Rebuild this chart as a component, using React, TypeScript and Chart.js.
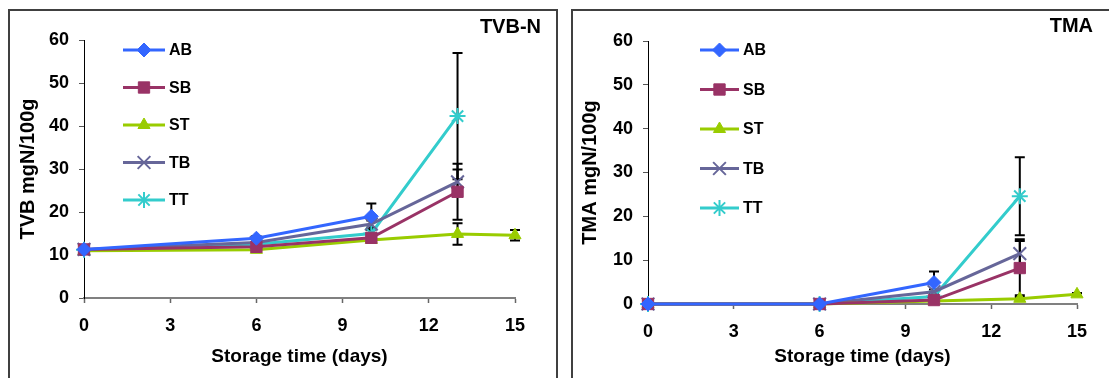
import React, { useEffect, useRef } from 'react';
import { Chart, registerables } from 'chart.js';
import { drawPoint } from 'chart.js/helpers';

Chart.register(...registerables);

const FONT = '"Liberation Sans", Arial, sans-serif';

const seriesNames = ['AB', 'SB', 'ST', 'TB', 'TT'];
const seriesColors = ['#3366FF', '#993366', '#99CC00', '#666699', '#33CCCC'];
const seriesPointStyles = ['rectRot', 'rect', 'triangle', 'crossRot', 'star'];
const seriesPointRadius = [7, 8, 7, 9, 8];

const xTickValues = [0, 3, 6, 9, 12, 15];
const yTickValues = [0, 10, 20, 30, 40, 50, 60];

// ---- TVB-N panel ----
const tvbDaysAB = [0, 6, 10];
const tvbAB = [11.3, 13.9, 19.0];
const tvbErrAB = [0.4, 0.5, 3.0];
const tvbDaysSB = [0, 6, 10, 13];
const tvbSB = [11.3, 11.9, 14.0, 24.7];
const tvbErrSB = [0.4, 0.4, 0.6, 6.5];
const tvbDaysST = [0, 6, 10, 13, 15];
const tvbST = [11.0, 11.2, 13.5, 14.9, 14.6];
const tvbErrST = [0.3, 0.4, 0.5, 2.5, 1.2];
const tvbDaysTB = [0, 6, 10, 13];
const tvbTB = [11.3, 12.9, 17.2, 27.0];
const tvbErrTB = [0.3, 0.4, 0.8, 2.9];
const tvbDaysTT = [0, 6, 10, 13];
const tvbTT = [11.2, 12.5, 15.0, 42.3];
const tvbErrTT = [0.3, 0.5, 0.8, 14.7];

// ---- TMA panel ----
const tmaDaysAB = [0, 6, 10];
const tmaAB = [0, 0, 4.9];
const tmaErrAB = [0, 0, 2.5];
const tmaDaysSB = [0, 6, 10, 13];
const tmaSB = [0, 0, 0.9, 8.2];
const tmaErrSB = [0, 0, 0.3, 6.2];
const tmaDaysST = [0, 6, 10, 13, 15];
const tmaST = [0, 0, 0.7, 1.2, 2.2];
const tmaErrST = [0, 0, 0.2, 0.4, 0.3];
const tmaDaysTB = [0, 6, 10, 13];
const tmaTB = [0, 0, 2.8, 11.5];
const tmaErrTB = [0, 0, 0.5, 3.3];
const tmaDaysTT = [0, 6, 10, 13];
const tmaTT = [0, 0, 1.7, 24.6];
const tmaErrTT = [0, 0, 0.4, 8.9];

const tvbSeries = [
  [tvbDaysAB, tvbAB, tvbErrAB],
  [tvbDaysSB, tvbSB, tvbErrSB],
  [tvbDaysST, tvbST, tvbErrST],
  [tvbDaysTB, tvbTB, tvbErrTB],
  [tvbDaysTT, tvbTT, tvbErrTT],
];
const tmaSeries = [
  [tmaDaysAB, tmaAB, tmaErrAB],
  [tmaDaysSB, tmaSB, tmaErrSB],
  [tmaDaysST, tmaST, tmaErrST],
  [tmaDaysTB, tmaTB, tmaErrTB],
  [tmaDaysTT, tmaTT, tmaErrTT],
];

const errorBarPlugin = {
  id: 'errorBars',
  beforeDatasetsDraw(chart: any) {
    const ctx = chart.ctx;
    const yScale = chart.scales.y;
    ctx.save();
    ctx.strokeStyle = '#000';
    ctx.lineWidth = 2;
    chart.data.datasets.forEach((ds: any, i: number) => {
      const meta = chart.getDatasetMeta(i);
      const errs = ds.errors || [];
      meta.data.forEach((pt: any, j: number) => {
        const e = errs[j];
        if (!e) return;
        const v = ds.data[j].y;
        const yt = yScale.getPixelForValue(v + e);
        const yb = yScale.getPixelForValue(v - e);
        const x = pt.x;
        ctx.beginPath();
        ctx.moveTo(x, yt);
        ctx.lineTo(x, yb);
        ctx.moveTo(x - 5, yt);
        ctx.lineTo(x + 5, yt);
        ctx.moveTo(x - 5, yb);
        ctx.lineTo(x + 5, yb);
        ctx.stroke();
      });
    });
    ctx.restore();
  },
};

const sideLegendPlugin = {
  id: 'sideLegend',
  afterDraw(chart: any, _args: any, opts: any) {
    const ctx = chart.ctx;
    ctx.save();
    chart.data.datasets.forEach((ds: any, i: number) => {
      const y = opts.y0 + i * opts.gap;
      ctx.strokeStyle = ds.borderColor;
      ctx.lineWidth = 3;
      ctx.beginPath();
      ctx.moveTo(opts.x0, y);
      ctx.lineTo(opts.x0 + opts.len, y);
      ctx.stroke();
      ctx.fillStyle = ds.pointBackgroundColor;
      ctx.strokeStyle = ds.pointBorderColor;
      ctx.lineWidth = ds.pointBorderWidth;
      drawPoint(
        ctx,
        { pointStyle: ds.pointStyle, radius: ds.pointRadius, rotation: 0, borderWidth: ds.pointBorderWidth } as any,
        opts.x0 + opts.len / 2,
        y
      );
      ctx.fillStyle = '#000';
      ctx.font = `bold 16px ${FONT}`;
      ctx.textBaseline = 'middle';
      ctx.textAlign = 'left';
      ctx.fillText(ds.label, opts.x0 + opts.len + 4, y + 1);
    });
    if (opts.title) {
      ctx.fillStyle = '#000';
      ctx.font = `bold 20px ${FONT}`;
      ctx.textAlign = 'right';
      ctx.textBaseline = 'middle';
      ctx.fillText(opts.title, opts.titleX, opts.titleY);
    }
    ctx.restore();
  },
};

type PanelCfg = {
  left: number;
  width: number;
  series: any[];
  yTitle: string;
  cornerTitle: string;
  titleX: number;
  titleY: number;
  padRight: number;
  padTop: number;
  yWidth: number;
  xHeight: number;
  yTitlePad: number;
  legend: { x0: number; len: number; y0: number; gap: number };
};

function buildConfig(cfg: PanelCfg): any {
  const datasets = cfg.series.map(([days, vals, errs]: any, i: number) => {
    const isStroke = seriesPointStyles[i] === 'crossRot' || seriesPointStyles[i] === 'star';
    return {
      label: seriesNames[i],
      data: days.map((d: number, j: number) => ({ x: d, y: vals[j] })),
      errors: errs,
      clip: false,
      borderColor: seriesColors[i],
      backgroundColor: seriesColors[i],
      borderWidth: 3,
      tension: 0,
      pointStyle: seriesPointStyles[i],
      pointRadius: seriesPointRadius[i],
      pointHoverRadius: seriesPointRadius[i],
      pointBackgroundColor: seriesColors[i],
      pointBorderColor: seriesColors[i],
      pointBorderWidth: isStroke ? 2 : 1,
    };
  });
  return {
    type: 'line',
    data: { datasets },
    plugins: [errorBarPlugin, sideLegendPlugin],
    options: {
      responsive: false,
      animation: false,
      events: [],
      layout: { padding: { left: 0, right: cfg.padRight, top: cfg.padTop, bottom: 0 } },
      plugins: {
        legend: { display: false },
        tooltip: { enabled: false },
        title: { display: false },
        sideLegend: { ...cfg.legend, title: cfg.cornerTitle, titleX: cfg.titleX, titleY: cfg.titleY },
      },
      scales: {
        x: {
          type: 'linear',
          min: 0,
          max: 15,
          afterBuildTicks: (scale: any) => {
            scale.ticks = xTickValues.map((v) => ({ value: v }));
          },
          afterFit: (scale: any) => {
            scale.height = cfg.xHeight;
          },
          grid: { display: true, drawOnChartArea: false, drawTicks: true, tickLength: 5, tickColor: '#666', tickWidth: 1.5 },
          border: { display: true, color: '#808080', width: 2 },
          ticks: { color: '#000', padding: 12, font: { family: FONT, size: 18, weight: 'bold' }, maxRotation: 0, autoSkip: false },
          title: {
            display: true,
            text: 'Storage time (days)',
            color: '#000',
            font: { family: FONT, size: 19, weight: 'bold' },
            padding: { top: 0, bottom: 10 },
          },
        },
        y: {
          type: 'linear',
          min: 0,
          max: 60,
          afterBuildTicks: (scale: any) => {
            scale.ticks = yTickValues.map((v) => ({ value: v }));
          },
          afterFit: (scale: any) => {
            scale.width = cfg.yWidth;
          },
          grid: { display: true, drawOnChartArea: false, drawTicks: true, tickLength: 5, tickColor: '#555', tickWidth: 1 },
          border: { display: true, color: '#000', width: 1 },
          ticks: { color: '#000', padding: 10, font: { family: FONT, size: 18, weight: 'bold' } },
          title: {
            display: true,
            text: cfg.yTitle,
            color: '#000',
            font: { family: FONT, size: 20, weight: 'bold' },
            padding: { top: cfg.yTitlePad, bottom: 0 },
          },
        },
      },
    },
  };
}

const leftCfg: PanelCfg = {
  left: 0,
  width: 560,
  series: tvbSeries,
  yTitle: 'TVB mgN/100g',
  cornerTitle: 'TVB-N',
  titleX: 541,
  titleY: 27,
  padRight: 45,
  padTop: 40,
  yWidth: 84,
  xHeight: 80,
  yTitlePad: 16,
  legend: { x0: 123, len: 42, y0: 50, gap: 37.5 },
};

const rightCfg: PanelCfg = {
  left: 560,
  width: 549,
  series: tmaSeries,
  yTitle: 'TMA mgN/100g',
  cornerTitle: 'TMA',
  titleX: 533,
  titleY: 26,
  padRight: 32,
  padTop: 41,
  yWidth: 88,
  xHeight: 74,
  yTitlePad: 18,
  legend: { x0: 140, len: 39, y0: 50, gap: 39.5 },
};

function Panel({ cfg }: { cfg: PanelCfg }) {
  const ref = useRef<HTMLCanvasElement | null>(null);
  useEffect(() => {
    if (!ref.current) return;
    const chart = new Chart(ref.current, buildConfig(cfg));
    return () => chart.destroy();
  }, [cfg]);
  return (
    <canvas
      ref={ref}
      width={cfg.width}
      height={378}
      style={{ position: 'absolute', left: cfg.left, top: 0, width: cfg.width, height: 378, display: 'block' }}
    />
  );
}

export default function App() {
  return (
    <div
      style={{
        position: 'fixed',
        left: 0,
        top: 0,
        width: 1109,
        height: 378,
        overflow: 'hidden',
        background: '#fff',
      }}
    >
      <div
        style={{
          position: 'absolute',
          left: 8,
          top: 9,
          width: 550,
          height: 420,
          boxSizing: 'border-box',
          border: '2px solid #404040',
        }}
      />
      <div
        style={{
          position: 'absolute',
          left: 571,
          top: 9,
          width: 560,
          height: 420,
          boxSizing: 'border-box',
          border: '2px solid #404040',
        }}
      />
      <Panel cfg={leftCfg} />
      <Panel cfg={rightCfg} />
    </div>
  );
}
